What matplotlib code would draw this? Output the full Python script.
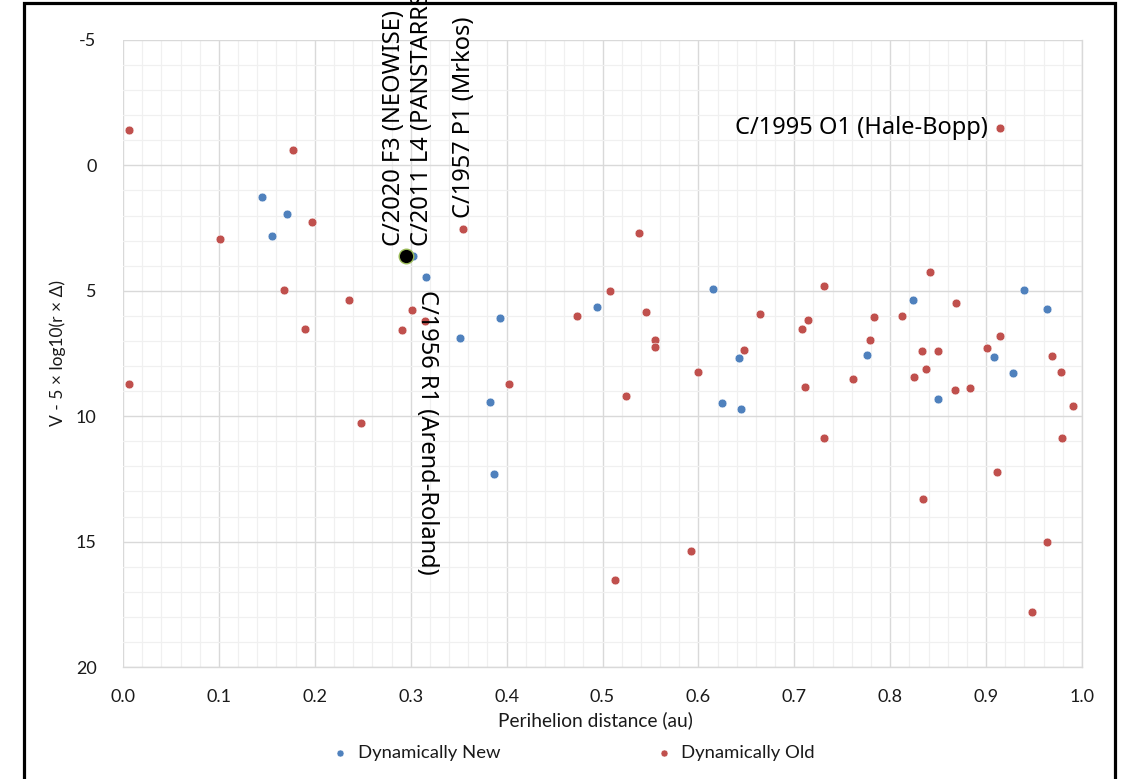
import matplotlib
matplotlib.use("Agg")
import matplotlib.pyplot as plt
from matplotlib.patches import Rectangle
from matplotlib.ticker import MultipleLocator, FormatStrFormatter

plt.rcParams['axes.unicode_minus'] = False

# ---- data ----
new_q = [0.145, 0.171, 0.155, 0.302, 0.316, 0.393, 0.351, 0.383, 0.387, 0.494,
         0.615, 0.642, 0.625, 0.644, 0.776, 0.8235, 0.850, 0.908, 0.928, 0.940, 0.963]
new_h = [1.27, 1.93, 2.83, 3.60, 4.46, 6.08, 6.88, 9.45, 12.29, 5.65,
         4.92, 7.66, 9.47, 9.73, 7.57, 5.36, 9.32, 7.63, 8.27, 4.95, 5.73]

old_q = [0.006, 0.177, 0.197, 0.1007, 0.355, 0.538, 0.168, 0.236, 0.301, 0.315,
         0.190, 0.291, 0.006, 0.248, 0.402, 0.473, 0.508, 0.545, 0.555, 0.555,
         0.525, 0.600, 0.664, 0.648, 0.731, 0.714, 0.708, 0.711, 0.731, 0.761,
         0.783, 0.779, 0.812, 0.841, 0.869, 0.833, 0.850, 0.837, 0.825, 0.868,
         0.883, 0.9005, 0.914, 0.969, 0.978, 0.991, 0.979, 0.911, 0.834, 0.592,
         0.963, 0.513, 0.948, 0.914]
old_h = [-1.42, -0.63, 2.27, 2.93, 2.55, 2.71, 4.98, 5.35, 5.77, 6.21,
         6.53, 6.56, 8.70, 10.27, 8.70, 6.02, 5.00, 5.85, 6.98, 7.26,
         9.20, 8.22, 5.93, 7.37, 4.80, 6.17, 6.52, 8.83, 10.88, 8.51,
         6.05, 6.97, 6.00, 4.27, 5.47, 7.39, 7.42, 8.10, 8.44, 8.94,
         8.88, 7.27, 6.81, 7.61, 8.24, 9.59, 10.88, 12.21, 13.30, 15.36,
         15.00, 16.52, 17.81, -1.49]

neowise_q = [0.295]
neowise_h = [3.60]

label_names = ["C/2020 F3 (NEOWISE)", "C/2011 L4 (PANSTARRS)", "C/1957 P1 (Mrkos)",
               "C/1956 R1 (Arend-Roland)", "C/1995 O1 (Hale-Bopp)"]
label_q = [0.295, 0.302, 0.355, 0.315, 0.914]
label_h = [3.60, 3.60, 2.55, 6.21, -1.49]

x_ticks = [0.0, 0.1, 0.2, 0.3, 0.4, 0.5, 0.6, 0.7, 0.8, 0.9, 1.0]
y_ticks = [-5, 0, 5, 10, 15, 20]

series_names = ["Dynamically New", "Dynamically Old"]

# ---- figure ----
W, H = 1122, 779
fig = plt.figure(figsize=(W / 100, H / 100), dpi=100)
ax = fig.add_axes([123 / W, 1 - 667 / H, (1082 - 123) / W, (667 - 40) / H])

blue = '#4F81BD'
red = '#C0504D'

ax.scatter(new_q, new_h, s=40, color=blue, edgecolors='white', linewidths=0.4,
           zorder=3, label=series_names[0])
ax.scatter(old_q, old_h, s=40, color=red, edgecolors='white', linewidths=0.4,
           zorder=3, label=series_names[1])
ax.scatter(neowise_q, neowise_h, s=110, color='black', edgecolors='#9BBB59',
           linewidths=1.0, zorder=4)

ax.set_xlim(0, 1.0)
ax.set_ylim(20, -5)
ax.set_xticks(x_ticks)
ax.set_yticks(y_ticks)
ax.xaxis.set_major_formatter(FormatStrFormatter('%.1f'))
ax.xaxis.set_minor_locator(MultipleLocator(0.02))
ax.yaxis.set_minor_locator(MultipleLocator(1))
ax.grid(which='major', color='#D9D9D9', linewidth=1.0, zorder=1)
ax.grid(which='minor', color='#F0F0F0', linewidth=0.9, zorder=0)
ax.set_axisbelow(True)
for s in ['top', 'left']:
    ax.spines[s].set_visible(False)
for s in ['bottom', 'right']:
    ax.spines[s].set_color('#D9D9D9')
    ax.spines[s].set_linewidth(1.0)

tickfont = ['Lato', 'DejaVu Sans']
ax.tick_params(which='both', length=0)
ax.tick_params(axis='x', pad=16, labelsize=13)
ax.tick_params(axis='y', pad=19, labelsize=13)
for lab in ax.get_xticklabels() + ax.get_yticklabels():
    lab.set_family(tickfont)
    lab.set_color('#1a1a1a')

ax.set_xlabel("Perihelion distance (au)", family=tickfont, fontsize=13.8,
              color='#1a1a1a', labelpad=4)
ax.xaxis.label.set_x(0.493)
ax.set_ylabel("V - 5 × log10(r × Δ)", family=tickfont, fontsize=12.5,
              color='#1a1a1a', labelpad=7)

# ---- annotations (offsets in points from each comet) ----
afont = ['Noto Sans', 'DejaVu Sans']
fs = 17
ax.annotate(label_names[0], (label_q[0], label_h[0]), xytext=(-8.6, 7.2),
            textcoords='offset points', rotation=90, ha='center', va='bottom',
            family=afont, fontsize=fs, zorder=5, annotation_clip=False)
ax.annotate(label_names[1], (label_q[1], label_h[1]), xytext=(6.8, 7.2),
            textcoords='offset points', rotation=90, ha='center', va='bottom',
            family=afont, fontsize=fs, zorder=5, annotation_clip=False)
ax.annotate(label_names[2], (label_q[2], label_h[2]), xytext=(0.3, 8.2),
            textcoords='offset points', rotation=90, ha='center', va='bottom',
            family=afont, fontsize=fs, zorder=5, annotation_clip=False)
ax.annotate(label_names[3], (label_q[3], label_h[3]), xytext=(1.5, 22.5),
            textcoords='offset points', rotation=270, ha='center', va='top',
            family=afont, fontsize=fs, zorder=5, annotation_clip=False)
ax.annotate(label_names[4], (label_q[4], label_h[4]), xytext=(-8.4, 0),
            textcoords='offset points', ha='right', va='center',
            family=afont, fontsize=fs, zorder=5, annotation_clip=False)

# ---- legend ----
leg = fig.legend(loc='center', bbox_to_anchor=(573 / W, 1 - 753 / H), ncol=2,
                 frameon=False, prop={'family': tickfont, 'size': 13.3},
                 handletextpad=0.45, columnspacing=8.35, handlelength=1.0,
                 markerscale=0.8)
for t in leg.get_texts():
    t.set_color('#1a1a1a')

# ---- outer border ----
fig.patches.append(Rectangle((23.5 / W, -0.02), (1114.5 - 23.5) / W, 1.02 - 2.5 / H,
                             transform=fig.transFigure, fill=False,
                             edgecolor='black', linewidth=2.3, zorder=10))

fig.savefig("out.png", dpi=100)
